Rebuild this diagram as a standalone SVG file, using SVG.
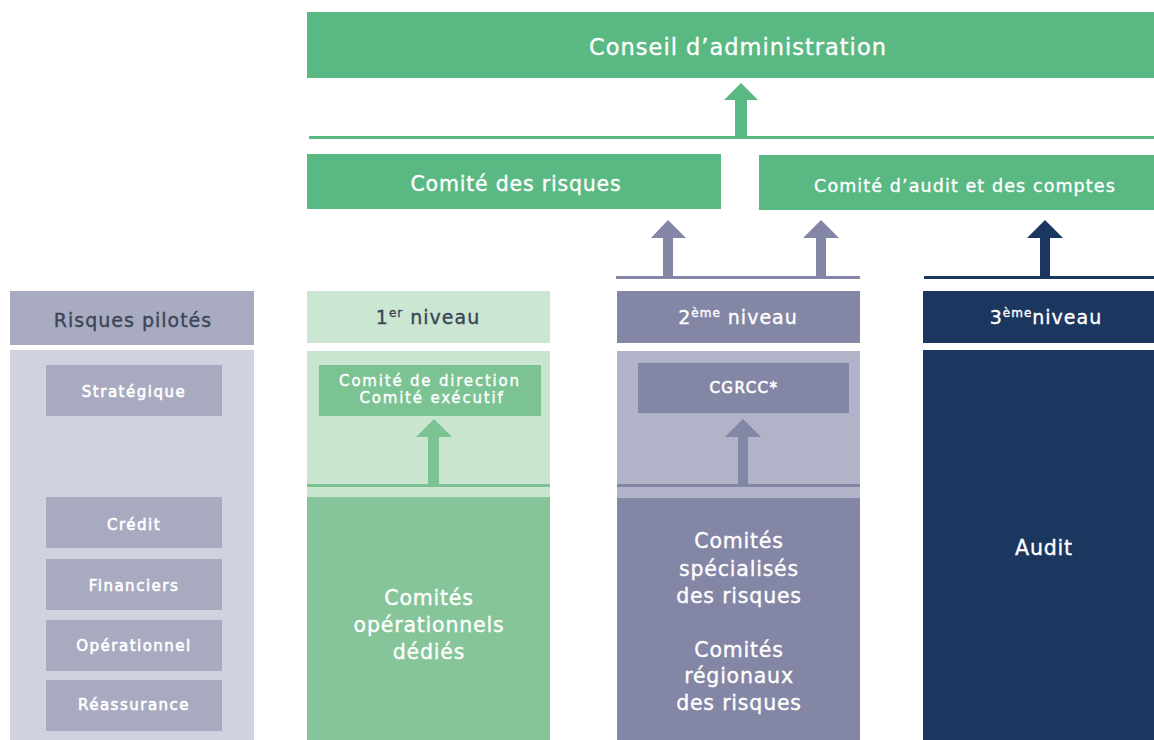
<svg xmlns="http://www.w3.org/2000/svg" width="1154" height="740" viewBox="0 0 1154 740">
<style>
text{font-family:"DejaVu Sans","Liberation Sans",sans-serif;text-anchor:middle;stroke-width:0.35px}
.w{fill:#ffffff;stroke:#ffffff}
.d{fill:#3a4656;stroke:#3a4656}
.green{fill:#5ab883}
.lgh{fill:#cbe6d2}
.lgb{fill:#c9e5cf}
.mg{fill:#86c59a}
.ag{fill:#7cc394}
.pu{fill:#8486a6}
.lpu{fill:#b1b3c9}
.nv{fill:#1b365f}
.gh{fill:#a9abc1}
.gb{fill:#d1d2df}
.gx{fill:#a8aabf}
.t22{font-size:22.5px;letter-spacing:1px}
.t20{font-size:20.5px;letter-spacing:0.8px}
.t18{font-size:17.5px;letter-spacing:1.1px}
.th{font-size:19px;letter-spacing:1px}
.t15{font-size:15px;letter-spacing:1.8px}
.t14{font-size:15px;letter-spacing:1.5px;stroke-width:0.6px}
</style>
<rect width="1154" height="740" fill="#ffffff"/>

<g id="conseil">
<rect class="green" x="307" y="12" width="847" height="66"/>
<text class="w t22" x="738" y="55">Conseil d’administration</text>
</g>

<g id="comite-risques">
<rect class="green" x="307" y="154" width="414" height="55"/>
<text class="w t20" x="516" y="191">Comité des risques</text>
</g>

<g id="comite-audit">
<rect class="green" x="759" y="155" width="395" height="55"/>
<text class="w t18" x="965" y="192">Comité d’audit et des comptes</text>
</g>

<g id="risques-pilotes">
<rect class="gh" x="10" y="291" width="244" height="54"/>
<text class="d th" x="133" y="327">Risques pilotés</text>
<rect class="gb" x="10" y="350" width="244" height="390"/>
</g>
<g id="strategique">
<rect class="gx" x="46" y="365" width="176" height="51"/>
<text class="w t14" x="134" y="397">Stratégique</text>
</g>
<g id="credit">
<rect class="gx" x="46" y="497" width="176" height="51"/>
<text class="w t14" x="134" y="530">Crédit</text>
</g>
<g id="financiers">
<rect class="gx" x="46" y="559" width="176" height="51"/>
<text class="w t14" x="134" y="591">Financiers</text>
</g>
<g id="operationnel">
<rect class="gx" x="46" y="620" width="176" height="51"/>
<text class="w t14" x="134" y="651">Opérationnel</text>
</g>
<g id="reassurance">
<rect class="gx" x="46" y="680" width="176" height="51"/>
<text class="w t14" x="134" y="710">Réassurance</text>
</g>

<g id="niveau1">
<rect class="lgh" x="307" y="291" width="243" height="52"/>
<text class="d th" x="428" y="324">1<tspan font-size="12" dy="-7">er</tspan><tspan dy="7"> niveau</tspan></text>
<rect class="lgb" x="307" y="351" width="243" height="146"/>
<rect class="mg" x="307" y="497" width="243" height="243"/>
<text class="w t20" x="429" y="605">Comités</text>
<text class="w t20" x="429" y="632">opérationnels</text>
<text class="w t20" x="429" y="659">dédiés</text>
</g>
<g id="comite-direction">
<rect class="ag" x="319" y="365" width="222" height="51"/>
<text class="w t15" x="430" y="386">Comité de direction</text>
<text class="w t15" x="432" y="403">Comité exécutif</text>
</g>

<g id="niveau2">
<rect class="pu" x="617" y="291" width="243" height="52"/>
<text class="w th" x="738" y="324">2<tspan font-size="12" dy="-7">ème</tspan><tspan dy="7"> niveau</tspan></text>
<rect class="lpu" x="617" y="351" width="243" height="147"/>
<rect class="pu" x="617" y="498" width="243" height="242"/>
<text class="w t20" x="739" y="548">Comités</text>
<text class="w t20" x="739" y="576">spécialisés</text>
<text class="w t20" x="739" y="603">des risques</text>
<text class="w t20" x="739" y="657">Comités</text>
<text class="w t20" x="739" y="683">régionaux</text>
<text class="w t20" x="739" y="710">des risques</text>
</g>
<g id="cgrcc">
<rect class="pu" x="638" y="363" width="211" height="50"/>
<text class="w t14" x="744" y="393">CGRCC*</text>
</g>

<g id="niveau3">
<rect class="nv" x="923" y="291" width="231" height="52"/>
<text class="w th" x="1046" y="324">3<tspan font-size="12" dy="-7">ème</tspan><tspan dy="7">niveau</tspan></text>
<rect class="nv" x="923" y="350" width="231" height="390"/>
<text class="w t20" x="1044" y="555">Audit</text>
</g>

<g id="connectors">
<rect class="green" x="309" y="136" width="845" height="3"/>
<polygon class="green" points="741,83 758,100 747,100 747,137 735,137 735,100 724,100"/>
<rect class="pu" x="616" y="276" width="244" height="3"/>
<polygon class="pu" points="668,220 686,238 673,238 673,277 663,277 663,238 651,238"/>
<polygon class="pu" points="821,220 839,238 826,238 826,277 816,277 816,238 803,238"/>
<rect class="nv" x="924" y="276" width="230" height="3"/>
<polygon class="nv" points="1045,220 1063,238 1050,238 1050,277 1040,277 1040,238 1027,238"/>
<rect class="ag" x="307" y="484" width="243" height="3"/>
<polygon class="ag" points="434,419 452,437 439,437 439,485 428,485 428,437 416,437"/>
<rect class="pu" x="617" y="484" width="243" height="3"/>
<polygon class="pu" points="743,419 761,437 748,437 748,485 738,485 738,437 725,437"/>
</g>
</svg>
